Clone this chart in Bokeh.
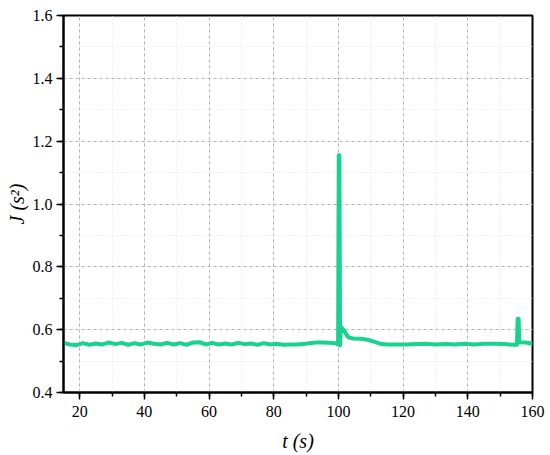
from bokeh.plotting import figure
from bokeh.models import Range1d, SingleIntervalTicker, PrintfTickFormatter
from bokeh.embed import file_html
from bokeh.resources import INLINE

t = [15, 17, 19, 21, 23, 25, 27, 29, 31, 33, 35, 37, 39, 41, 43, 45, 47, 49,
     51, 53, 55, 57, 59, 61, 63, 65, 67, 69, 71, 73, 75, 77, 79, 81, 83, 85,
     87, 89, 91, 93, 95, 97, 99, 99.9, 100.1, 100.3, 100.5, 100.7, 101.5, 103,
     104.5, 107, 109, 111, 113, 115, 118, 121, 124, 127, 130, 133, 136, 139,
     142, 145, 148, 151, 154, 155.2, 155.4, 155.7, 155.9, 158, 160]
J = [0.558, 0.553, 0.551, 0.557, 0.552, 0.556, 0.553, 0.559, 0.554, 0.558,
     0.552, 0.557, 0.553, 0.559, 0.555, 0.553, 0.558, 0.553, 0.557, 0.552,
     0.559, 0.560, 0.553, 0.558, 0.553, 0.556, 0.553, 0.558, 0.554, 0.556,
     0.552, 0.557, 0.553, 0.555, 0.552, 0.553, 0.553, 0.554, 0.557, 0.559,
     0.559, 0.558, 0.557, 0.553, 1.155, 1.155, 0.550, 0.610, 0.600, 0.576,
     0.572, 0.571, 0.568, 0.562, 0.555, 0.553, 0.553, 0.553, 0.554, 0.555,
     0.553, 0.554, 0.553, 0.555, 0.553, 0.555, 0.555, 0.554, 0.552, 0.552,
     0.635, 0.635, 0.560, 0.559, 0.555]

FONT = "Liberation Serif"

p = figure(frame_width=469, frame_height=377, output_backend="svg",
           toolbar_location=None,
           x_range=Range1d(15, 160), y_range=Range1d(0.4, 1.6),
           min_border_left=63, min_border_right=18, min_border_top=15,
           min_border_bottom=63)

p.line(t, J, line_color="#1ad28f", line_width=4, line_join="round")

p.xaxis.ticker = SingleIntervalTicker(interval=20, num_minor_ticks=2)
p.yaxis.ticker = SingleIntervalTicker(interval=0.2, num_minor_ticks=2)
p.yaxis.formatter = PrintfTickFormatter(format="%.1f")

for ax in (p.xaxis, p.yaxis):
    ax.axis_line_color = "black"
    ax.axis_line_width = 2
    ax.major_tick_line_color = "black"
    ax.major_tick_line_width = 1.5
    ax.minor_tick_line_color = "black"
    ax.minor_tick_line_width = 1.5
    ax.major_tick_out = 7
    ax.major_tick_in = 0
    ax.minor_tick_out = 4
    ax.minor_tick_in = 0
    ax.major_label_text_font = FONT
    ax.major_label_text_font_size = "16px"
    ax.major_label_text_color = "black"
    ax.axis_label_text_font = FONT
    ax.axis_label_text_font_size = "20px"
    ax.axis_label_text_font_style = "italic"
    ax.axis_label_text_color = "black"

p.xaxis.axis_label = "t (s)"
p.yaxis.axis_label = "J (s²)"
p.xaxis.major_label_standoff = 6
p.yaxis.major_label_standoff = 4
p.xaxis.axis_label_standoff = 10
p.yaxis.axis_label_standoff = 2

for g in (p.xgrid, p.ygrid):
    g.grid_line_color = "#b4b4b4"
    g.grid_line_dash = "3 3"
    g.grid_line_width = 1
    g.minor_grid_line_color = "#e4e4e4"
    g.minor_grid_line_dash = "1 2"
    g.minor_grid_line_width = 1

p.outline_line_color = "black"
p.outline_line_width = 2
p.background_fill_color = "white"
p.border_fill_color = "white"

open("out.html", "w").write(file_html(p, INLINE))
